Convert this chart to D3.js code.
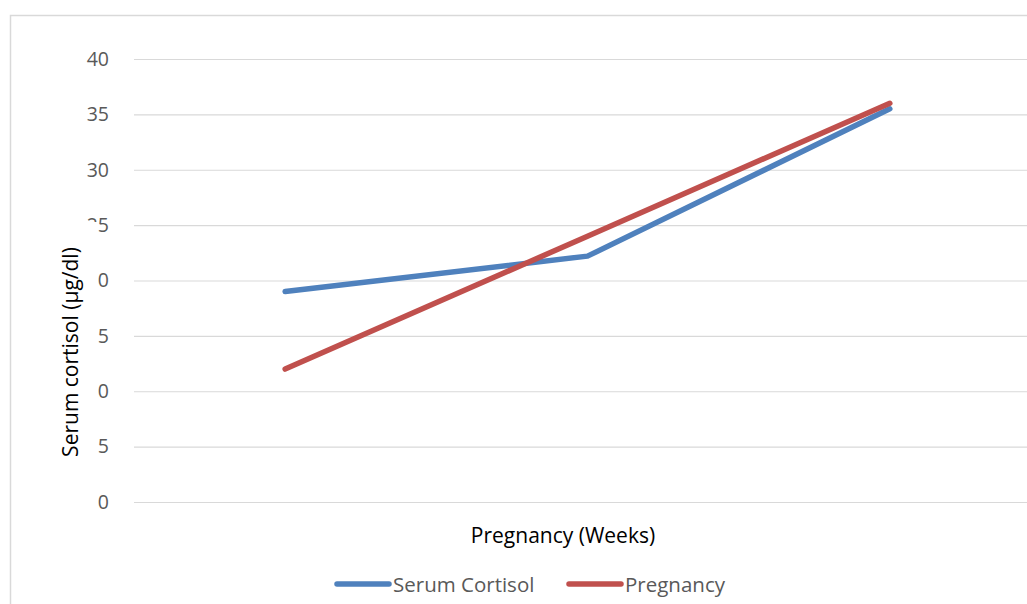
<!DOCTYPE html>
<html><head><meta charset="utf-8">
<script src="https://cdn.jsdelivr.net/npm/d3@7"></script>
<style>body{margin:0;background:#fff}svg{display:block}</style>
</head><body>
<svg id="c" width="1027" height="604"></svg>
<script>
const categories = ["", "", ""];
const seriesNames = ["Serum Cortisol", "Pregnancy"];
const serumCortisol = [19, 22.2, 35.5];
const pregnancy = [12, 24, 36];
const yTicks = [0, 5, 10, 15, 20, 25, 30, 35, 40];
const colors = ["#4f81bd", "#c0504d"];

const svg = d3.select("#c");
const font = "'Open Sans', sans-serif";
const L = 134, R = 1041, T = 59, B = 502;

svg.append("rect").attr("x", 10.5).attr("y", 15.5).attr("width", 1100).attr("height", 700)
  .attr("fill", "none").attr("stroke", "#d9d9d9").attr("stroke-width", 1.5);

const x = d3.scalePoint().domain(d3.range(categories.length)).range([L, R]).padding(0.5);
const y = d3.scaleLinear().domain([0, 40]).range([B, T]);

const yAxis = svg.append("g").attr("transform", `translate(${L},0)`)
  .call(d3.axisLeft(y).tickValues(yTicks).tickSize(-(R - L)).tickPadding(25));
yAxis.select(".domain").remove();
yAxis.selectAll(".tick line").attr("stroke", "#d9d9d9").attr("stroke-width", 1.2);
yAxis.selectAll(".tick text").attr("fill", "#595959").style("font-family", font).style("font-size", "19.5px");

const line = d3.line().x((d, i) => x(i)).y(d => y(d));
[serumCortisol, pregnancy].forEach((s, k) => {
  svg.append("path").datum(s).attr("d", line).attr("fill", "none")
    .attr("stroke", colors[k]).attr("stroke-width", 5.5)
    .attr("stroke-linecap", "round").attr("stroke-linejoin", "round");
});

// y-axis title with white background (overlaps tick labels as in the original)
svg.append("rect").attr("x", 55).attr("y", 222).attr("width", 43).attr("height", 245).attr("fill", "#fff");
svg.append("text").attr("transform", "translate(78,352) rotate(-90)").attr("text-anchor", "middle")
  .style("font-family", font).style("font-size", "21px").attr("fill", "#000")
  .text("Serum cortisol (µg/dl)");

svg.append("text").attr("x", 563).attr("y", 543).attr("text-anchor", "middle")
  .style("font-family", font).style("font-size", "21px").attr("fill", "#000")
  .text("Pregnancy (Weeks)");

const legX = [337, 569];
seriesNames.forEach((n, k) => {
  svg.append("line").attr("x1", legX[k]).attr("x2", legX[k] + 52).attr("y1", 584).attr("y2", 584)
    .attr("stroke", colors[k]).attr("stroke-width", 5.5).attr("stroke-linecap", "round");
  svg.append("text").attr("x", legX[k] + 56).attr("y", 591.5)
    .style("font-family", font).style("font-size", "20.5px").attr("fill", "#595959").text(n);
});
</script>
</body></html>
